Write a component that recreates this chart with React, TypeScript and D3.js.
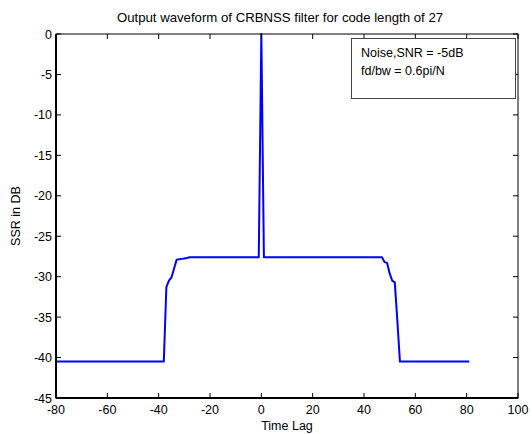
import React from "react";
import * as d3 from "d3";

const lags = [-80, -38, -37, -36, -35, -34, -33, -32, -31, -30, -29, -28, -1, 0, 1, 47, 48, 49, 50, 51, 52, 53, 54, 81];
const ssr = [-40.5, -40.5, -31.3, -30.5, -30.1, -29.0, -27.9, -27.85, -27.8, -27.75, -27.7, -27.6, -27.6, 0, -27.6, -27.6, -28.2, -28.3, -29.6, -30.5, -30.7, -35.5, -40.5, -40.5];
const xTicks = [-80, -60, -40, -20, 0, 20, 40, 60, 80, 100];
const yTicks = [0, -5, -10, -15, -20, -25, -30, -35, -40, -45];
const legendLines = ["Noise,SNR = -5dB", "fd/bw = 0.6pi/N"];
const title = "Output waveform of CRBNSS filter for code length of 27";

const W = 532, H = 434;
const L = 56, R = 518, T = 34, B = 398;

export default function App() {
  const x = d3.scaleLinear().domain([-80, 100]).range([L, R]);
  const y = d3.scaleLinear().domain([-45, 0]).range([B, T]);
  const pts = lags.map((l, i) => [l, ssr[i]] as [number, number]);
  const line = d3.line<[number, number]>().x(d => x(d[0])).y(d => y(d[1]))(pts) || "";
  const font = "Liberation Sans, Arial, sans-serif";
  const tl = 5;
  const fs = 12.5;
  return (
    <div style={{ position: "fixed", left: 0, top: 0 }}>
      <svg width={W} height={H} style={{ display: "block", background: "#fff" }} fontFamily={font}>
        <rect x={0} y={0} width={W} height={H} fill="#fff" />
        <text x={280} y={21.5} fontSize={13.2} textAnchor="middle" fill="#000">{title}</text>
        <path d={line} fill="none" stroke="#0000ff" strokeWidth={2} strokeLinejoin="round" />
        {xTicks.map(t => (
          <g key={"x" + t}>
            <line x1={x(t)} x2={x(t)} y1={B} y2={B - tl} stroke="#000" />
            <line x1={x(t)} x2={x(t)} y1={T} y2={T + tl} stroke="#000" />
            <text x={x(t)} y={414} fontSize={fs} textAnchor="middle" fill="#000">{t}</text>
          </g>
        ))}
        {yTicks.map(t => (
          <g key={"y" + t}>
            <line x1={L} x2={L + tl} y1={y(t)} y2={y(t)} stroke="#000" />
            <line x1={R} x2={R - tl} y1={y(t)} y2={y(t)} stroke="#000" />
            <text x={52} y={y(t) + 4.5} fontSize={fs} textAnchor="end" fill="#000">{t}</text>
          </g>
        ))}
        <rect x={L} y={T} width={R - L} height={B - T} fill="none" stroke="#000" strokeWidth={1} />
        <line x1={L} x2={L} y1={T} y2={B} stroke="#000" strokeWidth={2} />
        <line x1={L} x2={R} y1={B} y2={B} stroke="#000" strokeWidth={2} />
        <rect x={351.5} y={38.5} width={164} height={60} fill="#fff" stroke="#444" strokeWidth={1} />
        {legendLines.map((s, i) => (
          <text key={s} x={361} y={57 + i * 18} fontSize={fs} fill="#000">{s}</text>
        ))}
        <text x={(L + R) / 2} y={430} fontSize={fs} textAnchor="middle" fill="#000">Time Lag</text>
        <text transform={`translate(20, ${(T + B) / 2}) rotate(-90)`} fontSize={fs} textAnchor="middle" fill="#000">SSR  in DB</text>
      </svg>
    </div>
  );
}
